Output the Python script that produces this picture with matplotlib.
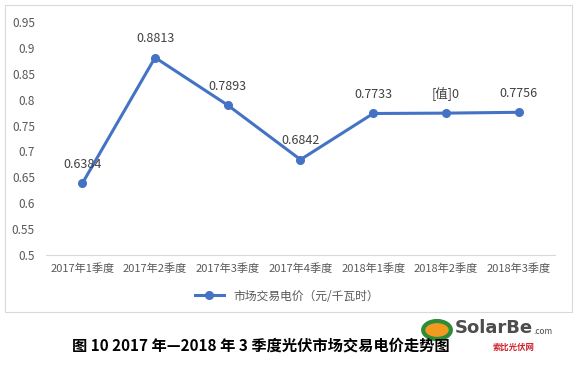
import matplotlib.pyplot as plt
from matplotlib.patches import Rectangle, Circle

plt.rcParams['font.family'] = ['Noto Sans CJK SC', 'DejaVu Sans']

quarters = ["2017年1季度", "2017年2季度", "2017年3季度", "2017年4季度",
            "2018年1季度", "2018年2季度", "2018年3季度"]
prices = [0.6384, 0.8813, 0.7893, 0.6842, 0.7733, 0.7740, 0.7756]
point_labels = ["0.6384", "0.8813", "0.7893", "0.6842", "0.7733", "[值]0", "0.7756"]
yticks = [0.5, 0.55, 0.6, 0.65, 0.7, 0.75, 0.8, 0.85, 0.9, 0.95]
ytick_labels = ["0.5", "0.55", "0.6", "0.65", "0.7", "0.75", "0.8", "0.85", "0.9", "0.95"]

W, H = 577, 373
fig = plt.figure(figsize=(W / 100, H / 100), dpi=100)
fig.patch.set_facecolor("white")

# chart frame
fig.patches.append(Rectangle((5 / W, 1 - 312 / H), 567 / W, 307 / H,
                             transform=fig.transFigure, fill=False,
                             edgecolor="#d9d9d9", linewidth=0.8))

ax = fig.add_axes([46 / W, 1 - 255 / H, 509 / W, 233 / H])
x = list(range(len(quarters)))
line, = ax.plot(x, prices, color="#4472C4", linewidth=2.2, marker="o",
                markersize=5.5, label="市场交易电价（元/千瓦时）")
for xi, yi, t in zip(x, prices, point_labels):
    ax.annotate(t, (xi, yi), xytext=(0, 9), textcoords="offset points",
                ha="center", va="bottom", fontsize=9, color="#404040")

ax.set_xlim(-0.5, len(quarters) - 0.5)
ax.set_ylim(0.5, 0.95)
ax.set_yticks(yticks)
ax.set_yticklabels(ytick_labels)
ax.set_xticks(x)
ax.set_xticklabels(quarters)
ax.tick_params(axis="both", length=0, colors="#595959")
ax.tick_params(axis="y", pad=8, labelsize=8.5)
ax.tick_params(axis="x", pad=6, labelsize=8)
for s in ["top", "right", "left"]:
    ax.spines[s].set_visible(False)
ax.spines["bottom"].set_color("#d9d9d9")

fig.legend(handles=[line], loc="center", bbox_to_anchor=(287 / W, 1 - 296 / H),
           frameon=False, fontsize=8.5, labelcolor="#595959", handlelength=2.5)

fig.text(261 / W, 1 - 346 / H, "图 10 2017 年—2018 年 3 季度光伏市场交易电价走势图",
         ha="center", va="center", fontsize=11, fontweight="bold", color="black")

# watermark logo
fig.patches.append(Circle((437 / W, 1 - 330 / H), 0.024, transform=fig.transFigure,
                          facecolor="#f29a1f", edgecolor="#2e8b3a", linewidth=3))
fig.text(455 / W, 1 - 328 / H, "SolarBe", fontsize=13, fontweight="bold",
         color="#4d4d4d", ha="left", va="center", family="DejaVu Sans")
fig.text(533 / W, 1 - 332 / H, ".com", fontsize=6, color="#4d4d4d",
         ha="left", va="center")
fig.text(514 / W, 1 - 347 / H, "索比光伏网", fontsize=6, color="#d0202a",
         ha="center", va="center", fontweight="bold")

fig.savefig("out.png", dpi=100, facecolor="white")
